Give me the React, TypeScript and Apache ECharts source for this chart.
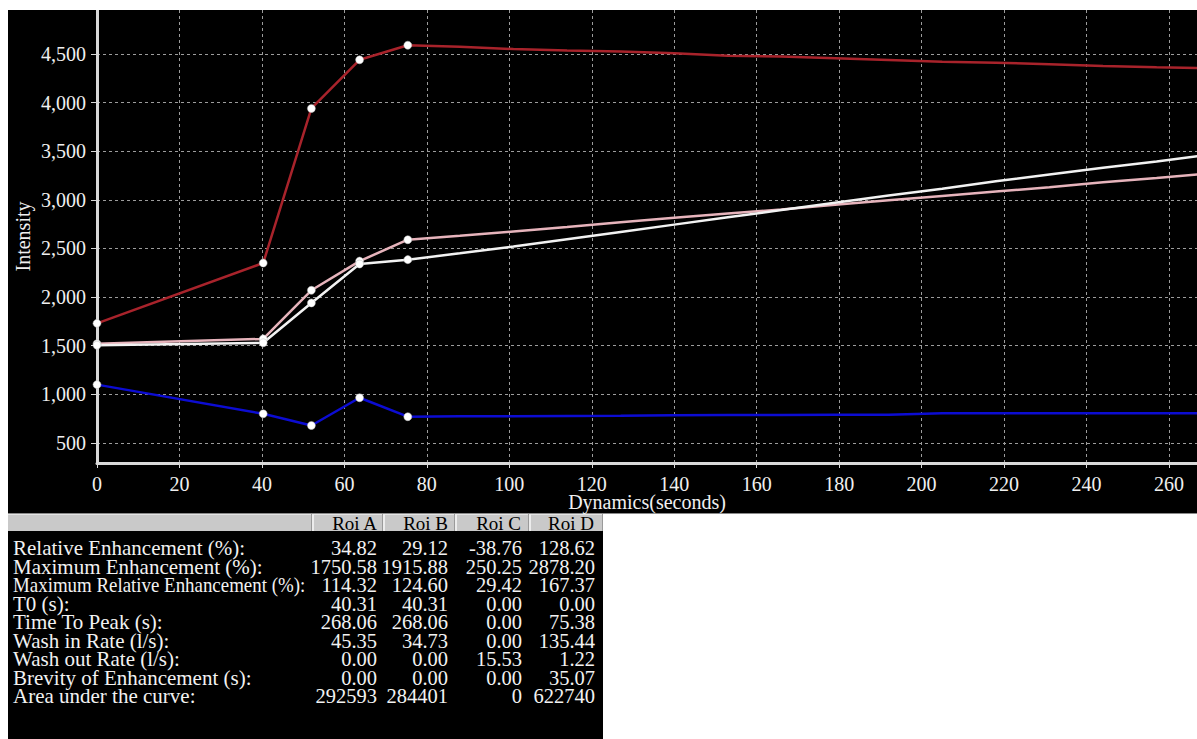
import React, { useEffect, useRef } from "react";
import * as echarts from "echarts";

const times = [0, 40.31, 52.0, 63.69, 75.38, 88, 101, 114, 127, 140, 153, 166, 179, 192, 205, 218, 231, 244, 257, 268.06];
const roiA = [1520, 1570, 2070, 2370, 2590, 2630, 2675, 2720, 2770, 2815, 2860, 2900, 2950, 2995, 3040, 3085, 3130, 3180, 3225, 3265];
const roiB = [1505, 1530, 1940, 2340, 2385, 2450, 2520, 2595, 2670, 2745, 2820, 2895, 2970, 3045, 3115, 3190, 3260, 3330, 3395, 3455];
const roiC = [1100, 800, 680, 965, 770, 775, 775, 778, 780, 785, 788, 788, 790, 790, 805, 805, 805, 805, 805, 805];
const roiD = [1730, 2350, 3940, 4440, 4590, 4575, 4550, 4535, 4525, 4507, 4482, 4473, 4455, 4438, 4421, 4410, 4394, 4377, 4363, 4355];
const markedPoints = 5;

const yMin = 294;
const yMax = 4952;
const xMax = 266.8;

const rowLabels = [
  "Relative Enhancement (%):",
  "Maximum Enhancement (%):",
  "Maximum Relative Enhancement (%):",
  "T0 (s):",
  "Time To Peak (s):",
  "Wash in Rate (l/s):",
  "Wash out Rate (l/s):",
  "Brevity of Enhancement (s):",
  "Area under the curve:",
];
const roiNames = ["Roi A", "Roi B", "Roi C", "Roi D"];
const colA = ["34.82", "1750.58", "114.32", "40.31", "268.06", "45.35", "0.00", "0.00", "292593"];
const colB = ["29.12", "1915.88", "124.60", "40.31", "268.06", "34.73", "0.00", "0.00", "284401"];
const colC = ["-38.76", "250.25", "29.42", "0.00", "0.00", "0.00", "15.53", "0.00", "0"];
const colD = ["128.62", "2878.20", "167.37", "0.00", "75.38", "135.44", "1.22", "35.07", "622740"];

const FONT = "Liberation Serif";

function mkData(vals: number[]) {
  return times.map((t, i) => ({
    value: [t, vals[i]],
    symbol: i < markedPoints ? "circle" : "none",
  }));
}

function txt(x: number, y: number, text: string, fill: string, fontSize: number, align: string, vAlign: string, scaleX = 1) {
  return {
    type: "text",
    x,
    y,
    scaleX,
    style: {
      text,
      fill,
      fontSize,
      fontFamily: FONT,
      align,
      verticalAlign: vAlign,
      textAlign: align,
      textVerticalAlign: vAlign,
    },
  };
}

export default function App() {
  const ref = useRef<HTMLDivElement>(null);
  useEffect(() => {
    if (!ref.current) return;
    const chart = echarts.init(ref.current, null, { renderer: "svg" });

    const lineSeries = (name: string, vals: number[], color: string) => ({
      name,
      type: "line",
      data: mkData(vals),
      symbolSize: 8,
      itemStyle: { color: "#ffffff", borderColor: "#bbbbbb", borderWidth: 0.5 },
      lineStyle: { color, width: 2.5 },
      clip: true,
    });

    const graphics: any[] = [];
    const colRight = [369, 440, 514, 587];
    const headRight = [369, 440, 513, 586];
    const cols = [colA, colB, colC, colD];
    roiNames.forEach((n, j) => {
      graphics.push(txt(headRight[j], 513, n, "#000", 19, "right", "middle"));
    });
    rowLabels.forEach((lab, i) => {
      const y = 538 + 18.5 * i;
      graphics.push(txt(5, y, lab, "#f2f2f2", 21, "left", "middle", i === 2 ? 0.9 : 1));
      cols.forEach((c, j) => {
        graphics.push(txt(colRight[j], y, c[i], "#f2f2f2", 20.5, "right", "middle"));
      });
    });

    chart.setOption({
      animation: false,
      backgroundColor: "transparent",
      textStyle: { fontFamily: FONT },
      grid: { left: 89, top: 0, right: 0, height: 453, containLabel: false, outerBoundsMode: "none" },
      xAxis: {
        type: "value",
        min: 0,
        max: xMax,
        interval: 20,
        name: "Dynamics(seconds)",
        nameLocation: "middle",
        nameGap: 29,
        nameMoveOverlap: false,
        nameTextStyle: { color: "#f0f0f0", fontSize: 20, fontFamily: FONT },
        axisLine: { show: true, onZero: false, lineStyle: { color: "#d9d9d9", width: 3 } },
        axisTick: { show: true, length: 5, lineStyle: { color: "#d9d9d9" } },
        axisLabel: {
          color: "#f0f0f0",
          fontSize: 20,
          fontFamily: FONT,
          margin: 11,
          showMaxLabel: false,
        },
        splitLine: {
          show: true,
          showMaxLine: false,
          lineStyle: { color: "#9c9c9c", type: [3, 3], width: 1 },
        },
      },
      yAxis: {
        type: "value",
        min: yMin,
        max: yMax,
        minInterval: 500,
        maxInterval: 500,
        name: "Intensity",
        nameLocation: "middle",
        nameGap: 64,
        nameMoveOverlap: false,
        nameRotate: 90,
        nameTextStyle: { color: "#f0f0f0", fontSize: 20, fontFamily: FONT },
        axisLine: { show: true, lineStyle: { color: "#d9d9d9", width: 3 } },
        axisTick: { show: true, length: 6, lineStyle: { color: "#d9d9d9" } },
        axisLabel: {
          color: "#f0f0f0",
          fontSize: 20,
          fontFamily: FONT,
          margin: 11,
          showMinLabel: false,
          showMaxLabel: false,
          formatter: (v: number) => v.toLocaleString("en-US"),
        },
        splitLine: {
          show: true,
          showMinLine: false,
          showMaxLine: false,
          lineStyle: { color: "#9c9c9c", type: [3, 3], width: 1 },
        },
      },
      series: [
        lineSeries("Roi C", roiC, "#0c0cd2"),
        lineSeries("Roi D", roiD, "#a8232b"),
        lineSeries("Roi A", roiA, "#e6b3bb"),
        lineSeries("Roi B", roiB, "#f2f2f2"),
      ],
      graphic: graphics,
    });
    return () => chart.dispose();
  }, []);

  const sepXs = [304, 375, 447, 521];
  return (
    <div style={{ position: "absolute", left: 8, top: 10, width: 1189, height: 729 }}>
      <div style={{ position: "absolute", left: 0, top: 0, width: 1189, height: 503, background: "#000" }} />
      <div style={{ position: "absolute", left: 0, top: 503, width: 1189, height: 1, background: "#8a8a8a" }} />
      <div style={{ position: "absolute", left: 0, top: 504, width: 595, height: 225, background: "#000" }} />
      <div
        style={{
          position: "absolute",
          left: 0,
          top: 504,
          width: 595,
          height: 17,
          background: "#c9c9c9",
          borderTop: "1px solid #e4e4e4",
          boxSizing: "border-box",
        }}
      />
      {sepXs.map((x) => (
        <React.Fragment key={x}>
          <div style={{ position: "absolute", left: x - 1, top: 504, width: 1, height: 17, background: "#9a9a9a" }} />
          <div style={{ position: "absolute", left: x, top: 504, width: 2, height: 17, background: "#ececec" }} />
        </React.Fragment>
      ))}
      <div style={{ position: "absolute", left: 594, top: 504, width: 1, height: 17, background: "#9a9a9a" }} />
      <div ref={ref} style={{ position: "absolute", left: 0, top: 0, width: 1189, height: 729 }} />
    </div>
  );
}
